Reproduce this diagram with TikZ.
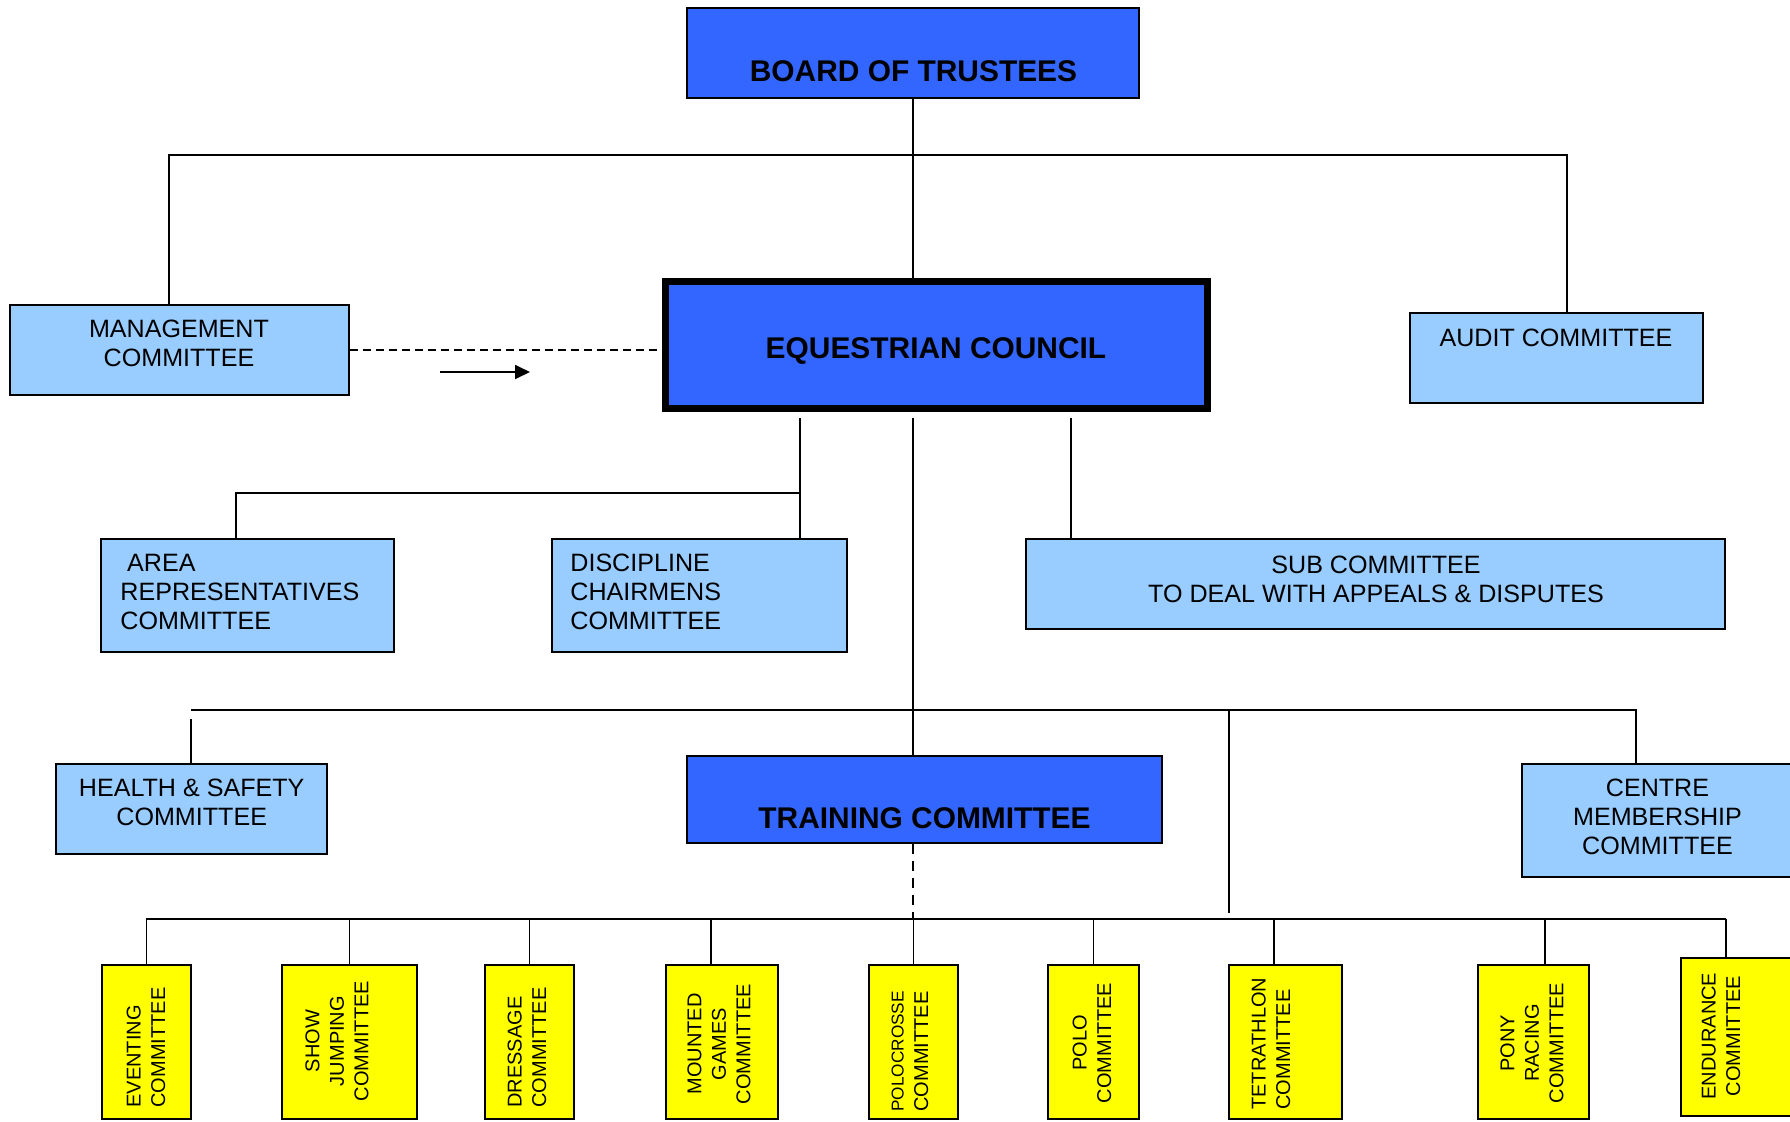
\documentclass[tikz,border=0pt]{standalone}
\usepackage{fontspec}
\setmainfont{Liberation Sans}
\usetikzlibrary{fit,arrows.meta}
\definecolor{dblue}{HTML}{3366FF}
\definecolor{lblue}{HTML}{99CCFF}
\definecolor{yel}{HTML}{FFFF00}
\begin{document}
\begin{tikzpicture}[x=0.5pt,y=-0.5pt,
  boxbase/.style={draw=black, line width=0.8pt, inner sep=0pt},
  lb/.style={boxbase, fill=lblue},
  db/.style={boxbase, fill=dblue},
  yb/.style={boxbase, fill=yel},
  txt/.style={font=\fontsize{12.55}{14.5}\selectfont, align=center, inner sep=0pt},
  bt/.style={font=\bfseries\fontsize{14.95}{17}\selectfont, inner sep=0pt, anchor=base},
  yt/.style={font=\fontsize{10}{12.25}\selectfont, rotate=90, inner sep=0pt},
  conn/.style={line width=0.9pt, draw=black}]
\useasboundingbox (0,0) rectangle (1790,1121);
\fill[white] (0,0) rectangle (1790,1121);

% boxes
\node[db, fit={(687,8)(1139,98)}] (board) {};
\node[db, line width=3.5pt, fit={(665,281.5)(1207.5,408.5)}] (council) {};
\node[lb, fit={(10,305)(349,395)}] (mgmt) {};
\node[lb, fit={(1410,313)(1703,403)}] (audit) {};
\node[lb, fit={(101,539)(394,652)}] (area) {};
\node[lb, fit={(552,539)(847,652)}] (disc) {};
\node[lb, fit={(1026,539)(1725,629)}] (sub) {};
\node[lb, fit={(56,764)(327,854)}] (hs) {};
\node[db, fit={(687,756)(1162,843)}] (train) {};
\node[lb, fit={(1522,764)(1800,877)}] (cm) {};
\node[yb, fit={(102,965)(191,1119)}] (evt) {};
\node[yb, fit={(282,965)(417,1119)}] (sj) {};
\node[yb, fit={(485,965)(574,1119)}] (dress) {};
\node[yb, fit={(666,965)(778,1119)}] (mount) {};
\node[yb, fit={(869,965)(958,1119)}] (polox) {};
\node[yb, fit={(1048,965)(1139,1119)}] (polo) {};
\node[yb, fit={(1229,965)(1342,1119)}] (tet) {};
\node[yb, fit={(1478,965)(1589,1119)}] (pony) {};
\node[yb, fit={(1681,958)(1800,1116)}] (endur) {};

% texts
\node[bt] (board-t) at (913.5,81) {BOARD OF TRUSTEES};
\node[bt] (council-t) at (936,358) {EQUESTRIAN COUNCIL};
\node[bt] (train-t) at (924.5,828) {TRAINING COMMITTEE};
\node[txt] (mgmt-t) at (179,343) {MANAGEMENT\\COMMITTEE};
\node[txt] (audit-t) at (1556,338) {AUDIT COMMITTEE};
\node[txt, align=left, anchor=west] (area-t) at (120,591.5) {\hspace*{3.4pt}AREA\\REPRESENTATIVES\\COMMITTEE};
\node[txt, align=left, anchor=west] (disc-t) at (570,591.5) {DISCIPLINE\\CHAIRMENS\\COMMITTEE};
\node[txt] (sub-t) at (1376,579) {SUB COMMITTEE\\TO DEAL WITH APPEALS \& DISPUTES};
\node[txt] (hs-t) at (191.7,802.5) {HEALTH \& SAFETY\\COMMITTEE};
\node[txt] (cm-t) at (1657.5,817) {CENTRE\\MEMBERSHIP\\COMMITTEE};

\node[yt, align=left, anchor=west] (evt-t) at (146,1108) {EVENTING\\COMMITTEE};
\node[yt, align=center] (sj-t) at (337,1041) {SHOW\\JUMPING\\COMMITTEE};
\node[yt, align=left, anchor=west] (dress-t) at (527,1108) {DRESSAGE\\COMMITTEE};
\node[yt, align=center] (mount-t) at (719,1044) {MOUNTED\\GAMES\\COMMITTEE};
\node[yt, align=left, anchor=west] (polox-t) at (910,1112) {{\fontsize{8.6}{12.25}\selectfont POLOCROSSE}\\COMMITTEE};
\node[yt, align=center] (polo-t) at (1092,1043) {POLO\\COMMITTEE};
\node[yt, align=left, anchor=west] (tet-t) at (1271,1110) {TETRATHLON\\COMMITTEE};
\node[yt, align=center] (pony-t) at (1532,1043) {PONY\\RACING\\COMMITTEE};
\node[yt, align=center] (endur-t) at (1721,1036) {ENDURANCE\\COMMITTEE};

% junction coordinates
\coordinate (tbL) at (169,155);
\coordinate (tbR) at (1567,155);
\coordinate (cL) at (800,418);
\coordinate (cM) at (913,418);
\coordinate (cR) at (1071,418);
\coordinate (j2) at (236,493);
\coordinate (mbL) at (191,710);
\coordinate (mbR) at (1636,710);
\coordinate (hsTop) at (191,719);
\coordinate (st1) at (1229,710);
\coordinate (st2) at (1229,913);
\coordinate (bbL) at (146,919);
\coordinate (bbR) at (1726,919);
\coordinate (dm) at (711,919);
\coordinate (dt) at (1274,919);
\coordinate (dp) at (1545,919);
\coordinate (arA) at (440,372);
\coordinate (arB) at (530,372);

% connectors
\draw[conn] (board.south) -- (board.south |- council.north);
\draw[conn] (tbL |- mgmt.north) -- (tbL) -- (tbR) -- (tbR |- audit.north);
\draw[conn, dash pattern=on 4pt off 2.5pt] (mgmt.east) -- (mgmt.east -| council.west);
\draw[conn, -{Triangle[length=7.5pt,width=7pt]}] (arA) -- (arB);

\draw[conn] (cL) -- (cL |- disc.north);
\draw[conn] (cL |- j2) -- (j2) -- (j2 |- area.north);
\draw[conn] (cM) -- (cM |- train.north);
\draw[conn] (cR) -- (cR |- sub.north);

\draw[conn] (mbL) -- (mbR) -- (mbR |- cm.north);
\draw[conn] (hsTop) -- (hsTop |- hs.north);
\draw[line width=1.2pt] (st1) -- (st2);

\draw[conn, dash pattern=on 5pt off 3.5pt] (cM |- train.south) -- (cM |- bbL);
\draw[conn] (bbL) -- (bbR);
\draw[conn] (evt.north |- bbL) -- (evt.north);
\draw[conn] (sj.north |- bbL) -- (sj.north);
\draw[conn] (dress.north |- bbL) -- (dress.north);
\draw[conn] (dm) -- (dm |- mount.north);
\draw[conn] (polox.north |- bbL) -- (polox.north);
\draw[conn] (polo.north |- bbL) -- (polo.north);
\draw[conn] (dt) -- (dt |- tet.north);
\draw[conn] (dp) -- (dp |- pony.north);
\draw[conn] (bbR) -- (bbR |- endur.north);
\end{tikzpicture}
\end{document}
